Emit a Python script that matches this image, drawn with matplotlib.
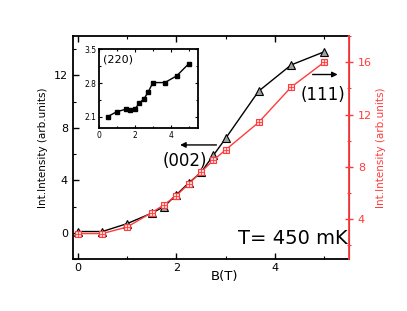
import matplotlib
matplotlib.use("Agg")
import matplotlib.pyplot as plt
from matplotlib.ticker import MultipleLocator

B = [0, 0.5, 1, 1.5, 1.75, 2, 2.25, 2.5, 2.75, 3, 3.67, 4.33, 5]
I002 = [0.1, 0.1, 0.7, 1.5, 2.0, 2.9, 3.8, 4.6, 5.9, 7.2, 10.8, 12.8, 13.8]
I111 = [2.9, 2.9, 3.4, 4.5, 5.1, 5.8, 6.7, 7.6, 8.5, 9.3, 11.4, 14.1, 16.0]
B_in = [0.5, 1, 1.5, 1.75, 2, 2.25, 2.5, 2.75, 3, 3.67, 4.33, 5]
I220 = [2.11, 2.21, 2.26, 2.25, 2.26, 2.39, 2.47, 2.62, 2.81, 2.81, 2.95, 3.20]

RED = '#ff3b3b'

fig = plt.figure(figsize=(4.07, 3.11), dpi=100)
ax = fig.add_axes([0.179, 0.167, 0.678, 0.717])
ax2 = ax.twinx()

ax.plot(B, I002, color='black', lw=1.0, marker='^', ms=6, mfc='#a0a0a0', mec='black', mew=0.8, zorder=3)
ax2.plot(B, I111, color=RED, lw=1.0, marker='s', ms=5, mfc='#ffd6d6', mec=RED, mew=0.8, zorder=3)
ax2.plot(B, I111, ls='none', marker='+', ms=5, mec=RED, mew=0.6, zorder=4)

ax.set_xlim(-0.1, 5.5)
ax.set_ylim(-2, 15)
ax2.set_ylim(0.95, 18)

ax.xaxis.set_major_locator(MultipleLocator(2))
ax.xaxis.set_minor_locator(MultipleLocator(1))
ax.yaxis.set_major_locator(MultipleLocator(4))
ax.yaxis.set_minor_locator(MultipleLocator(2))
ax2.yaxis.set_major_locator(MultipleLocator(4))
ax2.yaxis.set_minor_locator(MultipleLocator(2))

ax.tick_params(axis='both', which='major', direction='in', length=4, width=1, labelsize=8, top=True)
ax.tick_params(axis='both', which='minor', direction='in', length=2, width=0.8, top=True)
ax.tick_params(axis='x', pad=3)
ax2.tick_params(axis='y', which='major', direction='inout', length=6, width=1, colors=RED, labelsize=8)
ax2.tick_params(axis='y', which='minor', direction='inout', length=3, width=0.8, colors=RED)

for s in ['left', 'bottom', 'top']:
    ax.spines[s].set_linewidth(1.3)
ax2.spines['right'].set_color(RED)
ax2.spines['right'].set_linewidth(1.3)
for s in ['left', 'bottom', 'top']:
    ax2.spines[s].set_visible(False)

ax.set_ylabel('Int.Intensity (arb.units)', fontsize=7.5, labelpad=4)
ax2.set_ylabel('Int.Intensity (arb.units)', fontsize=7.5, color=RED, labelpad=3)
ax.set_xlabel('B(T)', fontsize=9.5)
ax.xaxis.set_label_coords(0.55, -0.05)

ax.annotate('', xy=(2.02, 6.7), xytext=(2.87, 6.7),
            arrowprops=dict(arrowstyle='-|>', color='black', lw=1.0, mutation_scale=8))
ax.text(2.18, 5.5, '(002)', fontsize=12, ha='center', va='center')
ax.annotate('', xy=(5.33, 12.07), xytext=(4.71, 12.07),
            arrowprops=dict(arrowstyle='-|>', color='black', lw=1.0, mutation_scale=8))
ax.text(4.97, 10.5, '(111)', fontsize=12, ha='center', va='center')
ax.text(0.995, 0.094, 'T= 450 mK', transform=ax.transAxes, fontsize=14, ha='right', va='center')

ins = fig.add_axes([0.243, 0.588, 0.243, 0.254])
ins.plot(B_in, I220, color='black', lw=1.0, marker='s', ms=2.8)
ins.set_xlim(0, 5.5)
ins.set_ylim(1.87, 3.5)
ins.set_xticks([0, 2, 4])
ins.set_yticks([2.1, 2.8, 3.5])
ins.set_yticklabels(['2.1', '2.8', '3.5'])
ins.xaxis.set_minor_locator(MultipleLocator(1))
ins.yaxis.set_minor_locator(MultipleLocator(0.35))
ins.tick_params(which='both', direction='in', top=True, right=True, labelsize=5.5, length=2.5, width=0.8, pad=2)
ins.tick_params(which='minor', length=1.5)
for s in ins.spines.values():
    s.set_linewidth(1.3)
ins.text(0.04, 0.93, '(220)', transform=ins.transAxes, fontsize=8, ha='left', va='top')

fig.savefig('out.png', dpi=100)
